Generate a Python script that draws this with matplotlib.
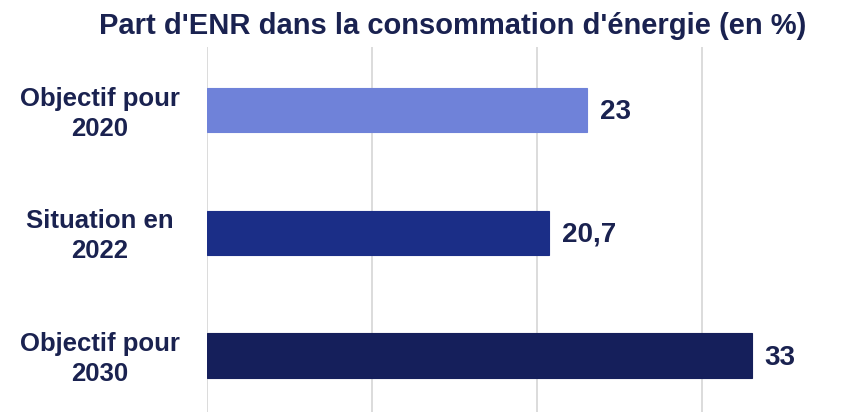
import matplotlib
matplotlib.use("Agg")
import matplotlib.pyplot as plt

categories = ["Objectif pour\n2020", "Situation en\n2022", "Objectif pour\n2030"]
values = [23, 20.7, 33]
value_labels = ["23", "20,7", "33"]
colors = ["#6F82D9", "#1B2E87", "#151F5B"]
title = "Part d'ENR dans la consommation d'énergie (en %)"
text_color = "#1A2250"

plt.rcParams['font.family'] = ['Liberation Sans', 'DejaVu Sans']

fig = plt.figure(figsize=(8.59, 4.12), dpi=100)
ax = fig.add_axes([207/859, 0, 643.5/859, 1 - 47/412])

ypos = list(range(len(values)))
ax.barh(ypos, values, height=0.36, color=colors, edgecolor=colors, linewidth=0.8, zorder=3)
ax.set_xlim(0, 39)
ax.set_ylim(2.46, -0.514)
ax.set_xticks([0, 10, 20, 30])
ax.xaxis.grid(True, color="#D9D9D9", linewidth=1.3, zorder=0)
ax.tick_params(axis='x', length=0, labelbottom=False)
ax.tick_params(axis='y', length=0)
ax.set_yticks(ypos)
ax.set_yticklabels([])
for s in ax.spines.values():
    s.set_visible(False)

for y, v, lab in zip(ypos, values, value_labels):
    ax.annotate(lab, xy=(v, y), xycoords='data', xytext=(9.5, -1.5), textcoords='offset points',
                va='center', ha='left', fontsize=20, fontweight='bold', color=text_color)

for y, c in zip(ypos, categories):
    ax.annotate(c, xy=(0, y), xycoords=('axes fraction', 'data'), xytext=(-77.4, -2.5), textcoords='offset points',
                ha='center', va='center', fontsize=18.5, fontweight='bold', color=text_color, linespacing=1.32)

fig.text(453/859, 1 - 26/412, title, ha='center', va='center', fontsize=21, fontweight='bold', color=text_color)

fig.savefig("out.png", dpi=100)
